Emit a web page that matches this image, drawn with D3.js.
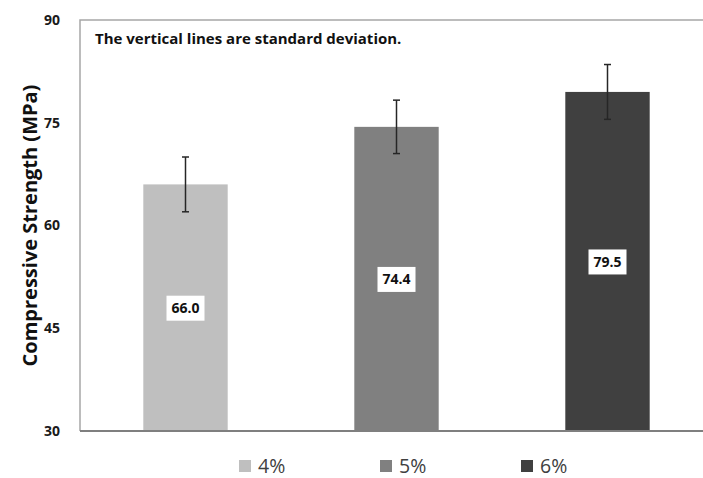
<!DOCTYPE html>
<html>
<head>
<meta charset="utf-8">
<script src="https://cdn.jsdelivr.net/npm/d3@7"></script>
<style>
  html, body { margin: 0; padding: 0; background: #fff; }
  svg { display: block; }
  text { font-family: "Open Sans", "Liberation Sans", sans-serif; }
</style>
</head>
<body>
<svg id="chart" width="703" height="478"></svg>
<script>
const categories = ["4%", "5%", "6%"];
const values = [66.0, 74.4, 79.5];
const stdDev = [4.0, 3.9, 4.0];
const valueLabels = ["66.0", "74.4", "79.5"];
const yTicks = [30, 45, 60, 75, 90];
const colors = ["#bfbfbf", "#808080", "#404040"];
const yTitle = "Compressive Strength (MPa)";
const note = "The vertical lines are standard deviation.";

const svg = d3.select("#chart");
const pLeft = 80, pRight = 713, pTop = 20, pBottom = 431;

const x = d3.scaleBand().domain(categories).range([pLeft, pRight]).paddingInner(0.6).paddingOuter(0.3);
const y = d3.scaleLinear().domain([30, 90]).range([pBottom, pTop]);

// frame (left and top)
svg.append("path")
  .attr("d", `M${pLeft},${pBottom}V${pTop}H${pRight}`)
  .attr("fill", "none").attr("stroke", "#a6a6a6").attr("stroke-width", 1.5);

// bars
svg.selectAll("rect.bar").data(categories).join("rect")
  .attr("class", "bar")
  .attr("x", d => x(d))
  .attr("width", x.bandwidth())
  .attr("y", (d, i) => y(values[i]))
  .attr("height", (d, i) => y(30) - y(values[i]))
  .attr("fill", (d, i) => colors[i]);

// bottom axis line
svg.append("line")
  .attr("x1", pLeft).attr("x2", pRight).attr("y1", pBottom).attr("y2", pBottom)
  .attr("stroke", "#7f7f7f").attr("stroke-width", 2);

// y axis labels
const yAxis = d3.axisLeft(y).tickValues(yTicks).tickSize(0).tickPadding(20).tickFormat(d3.format("d"));
const ga = svg.append("g").attr("transform", `translate(${pLeft},0)`).call(yAxis);
ga.select(".domain").remove();
ga.selectAll("text").attr("font-family", "'Open Sans', sans-serif")
  .attr("font-size", 14).attr("font-weight", "bold").attr("fill", "#1a1a1a");

// error bars
const eb = svg.selectAll("g.err").data(categories).join("g").attr("class", "err");
eb.append("line")
  .attr("x1", d => x(d) + x.bandwidth() / 2).attr("x2", d => x(d) + x.bandwidth() / 2)
  .attr("y1", (d, i) => y(values[i] + stdDev[i])).attr("y2", (d, i) => y(values[i] - stdDev[i]))
  .attr("stroke", "#262626").attr("stroke-width", 1.5);
eb.each(function(d, i) {
  const cx = x(d) + x.bandwidth() / 2;
  [values[i] + stdDev[i], values[i] - stdDev[i]].forEach(v => {
    d3.select(this).append("line")
      .attr("x1", cx - 3.5).attr("x2", cx + 3.5).attr("y1", y(v)).attr("y2", y(v))
      .attr("stroke", "#262626").attr("stroke-width", 1.5);
  });
});

// value labels
const lg = svg.selectAll("g.vl").data(categories).join("g").attr("class", "vl")
  .attr("transform", (d, i) => `translate(${x(d) + x.bandwidth() / 2},${(y(values[i]) + y(30)) / 2})`);
lg.append("rect").attr("x", -19).attr("y", -12).attr("width", 38).attr("height", 25).attr("fill", "#fff");
lg.append("text").text((d, i) => valueLabels[i])
  .attr("text-anchor", "middle").attr("dy", "0.36em")
  .attr("font-size", 14).attr("font-weight", "bold").attr("fill", "#111");

// y title
svg.append("text")
  .attr("transform", `translate(30,${(pTop + pBottom) / 2}) rotate(-90)`)
  .attr("text-anchor", "middle").attr("dy", "0.35em")
  .attr("font-size", 20).attr("font-weight", "bold").attr("fill", "#111")
  .text(yTitle);

// note
svg.append("text").attr("x", 95).attr("y", 44)
  .attr("font-size", 15).attr("font-weight", "bold").attr("fill", "#111")
  .text(note);

// legend
const legendX = [239, 380, 521];
const leg = svg.selectAll("g.leg").data(categories).join("g").attr("class", "leg")
  .attr("transform", (d, i) => `translate(${legendX[i]},466)`);
leg.append("rect").attr("x", 0).attr("y", -6).attr("width", 12).attr("height", 12)
  .attr("fill", (d, i) => colors[i]);
leg.append("text").attr("x", 19).attr("dy", "0.36em")
  .attr("font-size", 19.5).attr("fill", "#404040").text(d => d);
</script>
</body>
</html>
